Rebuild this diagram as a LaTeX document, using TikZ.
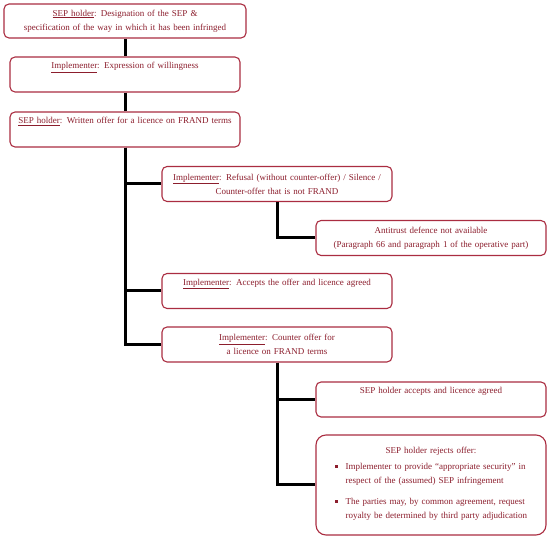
\documentclass[tikz,border=0pt]{standalone}
\usepackage{fontspec}
\setmainfont{Liberation Serif}
\definecolor{box edge}{RGB}{170,45,65}
\definecolor{box text}{RGB}{140,30,45}
\newcommand{\who}[1]{\underline{#1}}
\newcommand{\bul}{\rule[1.5pt]{2.6pt}{2.6pt}}

\begin{document}
\begin{tikzpicture}[x=1pt,y=-1pt,
  stepbox/.style={draw=box edge, line width=1.1pt, rounded corners=5pt, fill=white,
    text=box text, font=\fontsize{9}{14}\selectfont, align=center,
    inner sep=2pt, minimum width=230pt, minimum height=35pt, text width=226pt},
  link/.style={line width=3pt, black}]
\useasboundingbox (0,0) rectangle (550,540);

\node[stepbox, minimum width=242pt, text width=238pt, minimum height=34pt] (designation) at (125,21)
  {\who{SEP holder}: Designation of the SEP \&\\ specification of the way in which it has been infringed};
\node[stepbox] (willing) at (125,74.5) {\who{Implementer}: Expression of willingness\\[4pt] \mbox{}};
\node[stepbox] (offer) at (125,129.5) {\who{SEP holder}: Written offer for a licence on FRAND terms\\[4pt] \mbox{}};

\node[stepbox] (refusal) at (277,184)
  {\who{Implementer}: Refusal (without counter-offer) / Silence /\\ Counter-offer that is not FRAND};
\node[stepbox] (noantitrust) at (431,238)
  {Antitrust defence not available\\ (Paragraph 66 and paragraph 1 of the operative part)};
\node[stepbox] (accepts) at (277,291) {\who{Implementer}: Accepts the offer and licence agreed\\[4pt] \mbox{}};
\node[stepbox] (counter) at (277,344.5) {\who{Implementer}: Counter offer for\\ a licence on FRAND terms};

\node[stepbox] (holderok) at (431,399.5) {SEP holder accepts and licence agreed\\[4pt] \mbox{}};
\node[stepbox, rounded corners=10pt, minimum height=100pt] (holderno) at (431,485)
  {SEP holder rejects offer:\\[3pt]
   \begin{tabular}{@{}l@{\hspace{8pt}}l@{}}
   \bul & Implementer to provide “appropriate security” in\\
        & respect of the (assumed) SEP infringement\\[7pt]
   \bul & The parties may, by common agreement, request\\
        & royalty be determined by third party adjudication
   \end{tabular}};

% connectors
\draw[link] (designation) -- (willing);
\draw[link] (willing) -- (offer);
\draw[link] (offer.south) |- (refusal.west);
\draw[link] (offer.south) |- (accepts.west);
\draw[link] (offer.south) |- (counter.west);
\draw[link] (refusal.south) |- (noantitrust.west);
\draw[link] (counter.south) |- (holderok.west);
\draw[link] (counter.south) |- (holderno.west);

\end{tikzpicture}
\end{document}
